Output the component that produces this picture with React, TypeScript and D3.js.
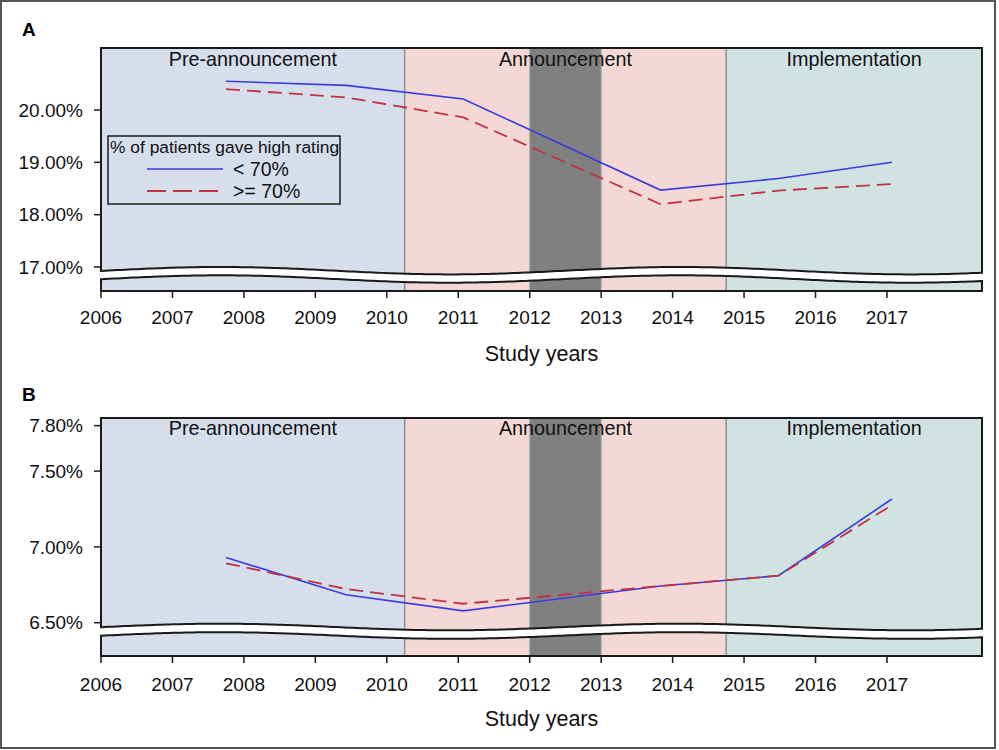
import React from "react";
import * as d3 from "d3";

// ---- data ----
const years = [2007.75, 2009.43, 2011.07, 2013.83, 2015.48, 2017.07];
const aLow = [20.55, 20.47, 20.21, 18.47, 18.69, 19.0];
const aHigh = [20.4, 20.24, 19.86, 18.2, 18.46, 18.585];
const bLow = [6.93, 6.684, 6.578, 6.742, 6.81, 7.316];
const bHigh = [6.892, 6.722, 6.625, 6.742, 6.81, 7.276];
const xTicks = [2006, 2007, 2008, 2009, 2010, 2011, 2012, 2013, 2014, 2015, 2016, 2017];
const aTicks = [17, 18, 19, 20];
const bTicks = [6.5, 7.0, 7.5, 7.8];
const periodNames = ["Pre-announcement", "Announcement", "Implementation"];
const periodStart = [2006, 2010.25, 2014.75];
const periodEnd = [2010.25, 2014.75, 2018.33];
const periodColors = ["#d6deec", "#f3d8d5", "#d1e2e2"];
const darkBand = [2012, 2013];
const seriesNames = ["< 70%", ">= 70%"];
const legendTitle = "% of patients gave high rating";

const FONT = "Arial, 'Liberation Sans', Helvetica, sans-serif";
const BLUE = "#3a3ade";
const RED = "#bf3343";

const x = d3.scaleLinear().domain([2006, 2018.33]).range([101, 982]);
const X0 = x(2006);
const X1 = x(2018.33);

type PanelCfg = {
  label: string;
  top: number;
  bottom: number;
  waveC: number;
  amp: number;
  gap: number;
  y: d3.ScaleLinear<number, number>;
  ticks: number[];
  low: number[];
  high: number[];
  tickLabelY: number;
  titleY: number;
  labelY: number;
  periodY: number;
  legend: boolean;
};

function wave(c: number, amp: number) {
  return (px: number) => c - amp * Math.cos((2 * Math.PI * (px - 220)) / 460);
}

function Panel({ cfg, id }: { cfg: PanelCfg; id: string }) {
  const w = wave(cfg.waveC, cfg.amp);
  const xs = d3.range(X0, X1 + 0.001, 4).concat([X1]);
  const waveTop = xs.map((p) => [p, w(p)] as [number, number]);
  const waveLow = xs.map((p) => [p, w(p) + cfg.gap] as [number, number]);
  const ln = d3.line();
  const upperPath =
    `M${X0},${cfg.top}L${X1},${cfg.top}` +
    ln(waveTop.slice().reverse())!.replace("M", "L") +
    "Z";
  const lowerPath =
    ln(waveLow)! + `L${X1},${cfg.bottom}L${X0},${cfg.bottom}Z`;

  const dataLine = d3
    .line<[number, number]>()
    .x((d) => x(d[0]))
    .y((d) => cfg.y(d[1]));
  const lowPts = years.map((yr, i) => [yr, cfg.low[i]] as [number, number]);
  const highPts = years.map((yr, i) => [yr, cfg.high[i]] as [number, number]);

  const bands = (clip: string, y0: number, y1: number) => (
    <g clipPath={`url(#${clip})`}>
      {periodNames.map((n, i) => (
        <rect
          key={n}
          x={x(periodStart[i])}
          y={y0}
          width={x(periodEnd[i]) - x(periodStart[i])}
          height={y1 - y0}
          fill={periodColors[i]}
        />
      ))}
      <rect
        x={x(darkBand[0])}
        y={y0}
        width={x(darkBand[1]) - x(darkBand[0])}
        height={y1 - y0}
        fill="#808080"
      />
      {darkBand.map((d) => (
        <line key={d} x1={x(d)} x2={x(d)} y1={y0} y2={y1} stroke="#a8a8a8" strokeWidth={1} />
      ))}
      {[periodStart[1], periodStart[2]].map((d) => (
        <line key={d} x1={x(d)} x2={x(d)} y1={y0} y2={y1} stroke="#8f8f8f" strokeWidth={1.5} />
      ))}
    </g>
  );

  return (
    <g>
      <defs>
        <clipPath id={`${id}-up`}>
          <path d={upperPath} />
        </clipPath>
        <clipPath id={`${id}-lo`}>
          <path d={lowerPath} />
        </clipPath>
      </defs>
      <text x={22} y={cfg.labelY} fontFamily={FONT} fontWeight="bold" fontSize={19} fill="#000">
        {cfg.label}
      </text>
      {bands(`${id}-up`, cfg.top, cfg.bottom)}
      {bands(`${id}-lo`, cfg.top, cfg.bottom)}
      {periodNames.map((n, i) => (
        <text
          key={n}
          x={(x(periodStart[i]) + x(periodEnd[i])) / 2}
          y={cfg.periodY}
          textAnchor="middle"
          fontFamily={FONT}
          fontSize={19.8}
          fill="#111"
        >
          {n}
        </text>
      ))}
      <g clipPath={`url(#${id}-up)`}>
        <path d={dataLine(lowPts)!} fill="none" stroke={BLUE} strokeWidth={1.6} />
        <path
          d={dataLine(highPts)!}
          fill="none"
          stroke={RED}
          strokeWidth={1.8}
          strokeDasharray="14,7"
        />
      </g>
      <path d={upperPath} fill="none" stroke="#1a1a1a" strokeWidth={2} />
      <path d={lowerPath} fill="none" stroke="#1a1a1a" strokeWidth={2} />
      {/* y axis */}
      {cfg.ticks.map((t) => (
        <g key={t}>
          <line x1={X0 - 7} x2={X0} y1={cfg.y(t)} y2={cfg.y(t)} stroke="#1a1a1a" strokeWidth={1.5} />
          <text
            x={X0 - 18}
            y={cfg.y(t)}
            dy="0.35em"
            textAnchor="end"
            fontFamily={FONT}
            fontSize={19}
            fill="#111"
          >
            {d3.format(".2f")(t) + "%"}
          </text>
        </g>
      ))}
      {/* x axis */}
      {xTicks.map((t) => (
        <g key={t}>
          <line
            x1={x(t)}
            x2={x(t)}
            y1={cfg.bottom}
            y2={cfg.bottom + 7}
            stroke="#1a1a1a"
            strokeWidth={1.5}
          />
          <text
            x={x(t)}
            y={cfg.tickLabelY}
            textAnchor="middle"
            fontFamily={FONT}
            fontSize={19}
            fill="#111"
          >
            {t}
          </text>
        </g>
      ))}
      <text
        x={(X0 + X1) / 2}
        y={cfg.titleY}
        textAnchor="middle"
        fontFamily={FONT}
        fontSize={21.5}
        fill="#111"
      >
        Study years
      </text>
      {cfg.legend && (
        <g>
          <rect x={108} y={136} width={232} height={68} fill="none" stroke="#1a1a1a" strokeWidth={1.5} />
          <text x={110} y={153} fontFamily={FONT} fontSize={17.4} fill="#111">
            {legendTitle}
          </text>
          <line x1={147} x2={223} y1={169} y2={169} stroke={BLUE} strokeWidth={1.6} />
          <text x={233} y={169} dy="0.35em" fontFamily={FONT} fontSize={19.5} fill="#111">
            {seriesNames[0]}
          </text>
          <line
            x1={147}
            x2={223}
            y1={191}
            y2={191}
            stroke={RED}
            strokeWidth={1.8}
            strokeDasharray="19,7"
          />
          <text x={233} y={191} dy="0.35em" fontFamily={FONT} fontSize={19.5} fill="#111">
            {seriesNames[1]}
          </text>
        </g>
      )}
    </g>
  );
}

export default function App() {
  const yA = d3.scaleLinear().domain([17, 20]).range([267, 110]);
  const yB = d3.scaleLinear().domain([6.5, 7.0]).range([622.7, 546.9]);
  const panels: PanelCfg[] = [
    {
      label: "A",
      top: 48,
      bottom: 291,
      waveC: 270.7,
      amp: 3.7,
      gap: 8.3,
      y: yA,
      ticks: aTicks,
      low: aLow,
      high: aHigh,
      tickLabelY: 324,
      titleY: 361,
      labelY: 36,
      periodY: 66,
      legend: true,
    },
    {
      label: "B",
      top: 418,
      bottom: 656,
      waveC: 627,
      amp: 3.3,
      gap: 8.5,
      y: yB,
      ticks: bTicks,
      low: bLow,
      high: bHigh,
      tickLabelY: 691,
      titleY: 726,
      labelY: 401,
      periodY: 435,
      legend: false,
    },
  ];
  return (
    <svg
      width={999}
      height={750}
      style={{ position: "absolute", left: 0, top: 0, background: "#fff" }}
    >
      <rect x={0} y={0} width={999} height={750} fill="#fff" />
      <rect x={1} y={1} width={994} height={747} fill="none" stroke="#555" strokeWidth={2} />
      {panels.map((p, i) => (
        <Panel key={p.label} cfg={p} id={`p${i}`} />
      ))}
    </svg>
  );
}
